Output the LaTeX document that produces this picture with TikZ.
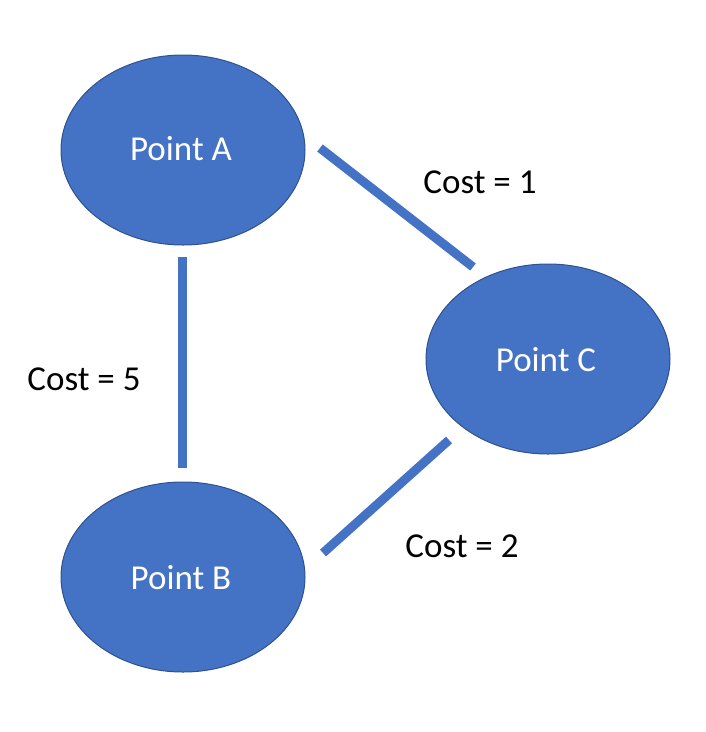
\documentclass[tikz,border=0pt]{standalone}
\usepackage{fontspec}
\setmainfont{Carlito}
\usetikzlibrary{shapes.geometric}
\definecolor{fillblue}{HTML}{4472C4}
\definecolor{edgeblue}{HTML}{2F528F}
\begin{document}
\begin{tikzpicture}[x=1pt,y=-1pt,
  pt/.style={ellipse,draw=edgeblue,line width=1pt,fill=fillblue,minimum width=244pt,minimum height=190pt,inner sep=0pt},
  ptlabel/.style={text=white,font=\fontsize{35}{40}\selectfont,anchor=base},
  cost/.style={text=black,font=\fontsize{35}{40}\selectfont,anchor=base},
  edge/.style={draw=fillblue,line width=9pt,line cap=butt}]
\useasboundingbox (0,0) rectangle (706,732);
\node[pt] (A) at (183,150) {};
\node[pt] (B) at (183,577) {};
\node[pt] (C) at (548,359) {};
\node[ptlabel] (tA) at (181,160) {Point A};
\node[ptlabel] (tB) at (181,589) {Point B};
\node[ptlabel] (tC) at (546,371) {Point C};
\coordinate (ac1) at (320,148);
\coordinate (ac2) at (473,267);
\coordinate (ab1) at (182,257);
\coordinate (ab2) at (182,468);
\coordinate (bc1) at (323,553);
\coordinate (bc2) at (449,440);
\draw[edge] (ac1) -- (ac2);
\draw[edge] (ab1) -- (ab2);
\draw[edge] (bc1) -- (bc2);
\node[cost] (c1) at (480,193) {Cost = 1};
\node[cost] (c5) at (84,390) {Cost = 5};
\node[cost] (c2) at (462,557) {Cost = 2};
\end{tikzpicture}
\end{document}
